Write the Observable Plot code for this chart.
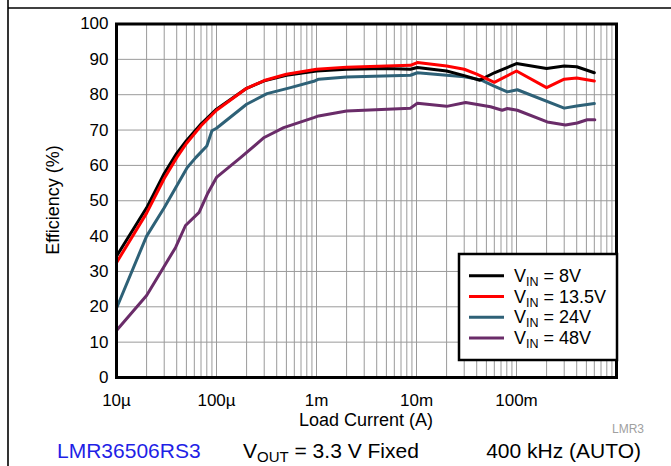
<!DOCTYPE html>
<html>
<head>
<meta charset="utf-8">
<script src="https://cdn.jsdelivr.net/npm/d3@7"></script>
<script src="https://cdn.jsdelivr.net/npm/@observablehq/plot@0.6"></script>
<style>
  html, body { margin: 0; padding: 0; background: white; }
  #wrap { position: relative; width: 671px; height: 466px; overflow: hidden; background: white; font-family: "Liberation Sans", Arial, Helvetica, sans-serif; }
  #wrap svg.overlay { position: absolute; left: 0; top: 0; }
</style>
</head>
<body>
<div id="wrap"></div>
<script>
// ---- data (load current in A, efficiency in %) ----
const seriesNames = ["VIN = 8V", "VIN = 13.5V", "VIN = 24V", "VIN = 48V"];
const seriesColors = ["#000000", "#ff0000", "#2e6177", "#6a2c69"];

const i8V   = [1e-5, 2e-5, 3e-5, 4e-5, 5e-5, 7e-5, 1e-4, 2e-4, 3e-4, 5e-4, 1e-3, 2e-3, 5e-3, 8.7e-3, 1.02e-2, 2e-2, 3e-2, 4.3e-2, 6e-2, 1e-1, 2e-1, 3e-1, 4e-1, 6e-1];
const eff8V = [34.3, 48, 57.7, 63.4, 67, 71.7, 75.9, 81.8, 83.9, 85.5, 86.7, 87.2, 87.4, 87.2, 87.7, 86.7, 85.4, 84.1, 86.2, 88.8, 87.4, 88.1, 87.9, 86.2];

const i13V   = [1e-5, 2e-5, 3e-5, 4e-5, 5e-5, 7e-5, 1e-4, 2e-4, 3e-4, 5e-4, 1e-3, 2e-3, 5e-3, 8.7e-3, 1.02e-2, 2e-2, 3e-2, 4e-2, 6e-2, 1e-1, 2e-1, 3e-1, 4e-1, 6e-1];
const eff13V = [32.5, 46.5, 56.3, 62.2, 66.2, 71.2, 75.6, 81.8, 84, 85.8, 87.2, 87.8, 88.1, 88.3, 89.1, 88.1, 87.2, 85.8, 83.5, 86.7, 82, 84.4, 84.7, 83.9];

const i24V   = [1e-5, 2e-5, 3e-5, 5.1e-5, 6.2e-5, 8e-5, 9e-5, 1e-4, 2e-4, 3.2e-4, 5.5e-4, 9.4e-4, 1.05e-3, 2e-3, 8.7e-3, 1.02e-2, 3e-2, 4.4e-2, 5.9e-2, 8.1e-2, 1.02e-1, 3e-1, 4e-1, 6e-1];
const eff24V = [19.6, 40, 48, 59.4, 62.2, 65.5, 69.8, 70.5, 77.3, 80.3, 82, 83.8, 84.4, 85, 85.5, 86.2, 85.1, 84.2, 82.5, 80.8, 81.4, 76.2, 76.8, 77.5];

const i48V   = [1e-5, 2e-5, 3.9e-5, 4.9e-5, 6.7e-5, 8.1e-5, 1e-4, 1.74e-4, 3e-4, 4.7e-4, 9.4e-4, 1.05e-3, 2e-3, 8.7e-3, 1.02e-2, 2e-2, 3.1e-2, 5.5e-2, 7.2e-2, 8.1e-2, 1.02e-1, 2.03e-1, 3.09e-1, 4.05e-1, 5.09e-1, 6.07e-1];
const eff48V = [13.3, 23.2, 36.8, 43, 46.7, 51.9, 56.6, 62.2, 67.9, 70.7, 73.5, 74, 75.4, 76.2, 77.6, 76.7, 77.8, 76.6, 75.6, 76.1, 75.6, 72.3, 71.4, 72, 72.9, 72.9];

const xTickValues = [1e-5, 1e-4, 1e-3, 1e-2, 1e-1];
const xTickLabels = ["10\u00b5", "100\u00b5", "1m", "10m", "100m"];
const yTicks = [0, 10, 20, 30, 40, 50, 60, 70, 80, 90, 100];

// ---- build tables ----
const allX = [i8V, i13V, i24V, i48V];
const allY = [eff8V, eff13V, eff24V, eff48V];
const tables = allX.map((xs, s) => xs.map((x, k) => ({x, y: allY[s][k], series: seriesNames[s]})));

const font = '"Liberation Sans", Arial, Helvetica, sans-serif';

const chart = Plot.plot({
  width: 671,
  height: 466,
  marginLeft: 116,
  marginRight: 55,
  marginTop: 23.5,
  marginBottom: 89,
  style: {fontFamily: font, fontSize: "17px", color: "black", background: "transparent"},
  x: {type: "log", domain: [1e-5, 1]},
  y: {domain: [0, 100]},
  marks: [
    Plot.gridX({ticks: 40, stroke: "#9a9a9a", strokeOpacity: 1, strokeWidth: 1}),
    Plot.gridY(yTicks, {stroke: "#9a9a9a", strokeOpacity: 1, strokeWidth: 1}),
    Plot.axisX(xTickValues, {tickSize: 0, tickPadding: 16, label: null,
      tickFormat: d => xTickLabels[xTickValues.indexOf(d)], fill: "black"}),
    Plot.axisY(yTicks, {tickSize: 0, tickPadding: 8, label: null, fill: "black"}),
    Plot.line(tables[3], {x: "x", y: "y", stroke: seriesColors[3], strokeWidth: 3, curve: "linear"}),
    Plot.line(tables[2], {x: "x", y: "y", stroke: seriesColors[2], strokeWidth: 3, curve: "linear"}),
    Plot.line(tables[0], {x: "x", y: "y", stroke: seriesColors[0], strokeWidth: 3, curve: "linear"}),
    Plot.line(tables[1], {x: "x", y: "y", stroke: seriesColors[1], strokeWidth: 3, curve: "linear"}),
    Plot.frame({stroke: "black", strokeWidth: 3})
  ]
});

const wrap = document.getElementById("wrap");
wrap.appendChild(chart);

// ---- overlay: figure border, axis titles, legend, captions ----
const ns = "http://www.w3.org/2000/svg";
const ov = document.createElementNS(ns, "svg");
ov.setAttribute("class", "overlay");
ov.setAttribute("width", 671);
ov.setAttribute("height", 466);
ov.setAttribute("font-family", font);
wrap.appendChild(ov);

function el(tag, attrs, parent = ov) {
  const e = document.createElementNS(ns, tag);
  for (const k in attrs) e.setAttribute(k, attrs[k]);
  parent.appendChild(e);
  return e;
}
function subText(x, y, main, sub, rest, size, subSize, fill, anchor = "start") {
  const t = el("text", {x, y, "font-size": size, fill, "text-anchor": anchor});
  const a = el("tspan", {}, t); a.textContent = main;
  const b = el("tspan", {"font-size": subSize, dy: 4}, t); b.textContent = sub;
  const c = el("tspan", {dy: -4}, t); c.textContent = rest;
  return t;
}

// figure border lines
el("line", {x1: 8, y1: 0, x2: 8, y2: 466, stroke: "black", "stroke-width": 1.6});
el("line", {x1: 8, y1: 8, x2: 671, y2: 8, stroke: "black", "stroke-width": 1.6});

// axis titles
const xt = el("text", {x: 366, y: 426, "font-size": 18, "text-anchor": "middle", fill: "black"});
xt.textContent = "Load Current (A)";
const yt = el("text", {x: 0, y: 0, "font-size": 18, "text-anchor": "middle", fill: "black",
  transform: "translate(59,200) rotate(-90)"});
yt.textContent = "Efficiency (%)";

// legend
el("rect", {x: 459, y: 254, width: 158, height: 106, fill: "white", stroke: "black", "stroke-width": 2.5});
const legendY = [275.7, 296.5, 317.3, 338.1];
const legendVals = ["8V", "13.5V", "24V", "48V"];
legendVals.forEach((v, k) => {
  el("line", {x1: 469, x2: 504, y1: legendY[k], y2: legendY[k], stroke: seriesColors[k], "stroke-width": 3});
  subText(514, legendY[k] + 6, "V", "IN", " = " + v, 18, 12.5, "black");
});

// captions
const c1 = el("text", {x: 57, y: 458, "font-size": 21, fill: "#1f1fe6"});
c1.textContent = "LMR36506RS3";
subText(243, 458, "V", "OUT", " = 3.3 V Fixed", 21, 15, "black");
const c3 = el("text", {x: 641, y: 458, "font-size": 21, fill: "black", "text-anchor": "end"});
c3.textContent = "400 kHz (AUTO)";
const c4 = el("text", {x: 644, y: 433, "font-size": 12, fill: "#a0a0a0", "text-anchor": "end"});
c4.textContent = "LMR3";
</script>
</body>
</html>
